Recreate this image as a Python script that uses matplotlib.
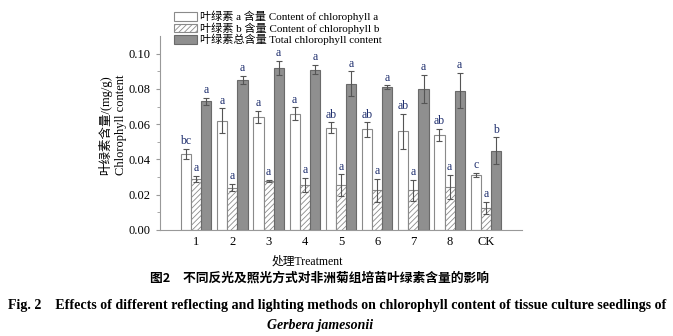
import numpy as np
import matplotlib
matplotlib.use("Agg")
import matplotlib.pyplot as plt
from matplotlib.patches import Patch

plt.rcParams['font.family'] = ['Liberation Serif', 'Noto Sans CJK SC']
plt.rcParams['hatch.linewidth'] = 0.6

# treatments and measured contents (mg/g)
treatments = ["1", "2", "3", "4", "5", "6", "7", "8", "CK"]
chl_a = [0.043, 0.062, 0.064, 0.066, 0.058, 0.057, 0.056, 0.054, 0.031]
chl_a_err = [0.003, 0.007, 0.0035, 0.0035, 0.003, 0.004, 0.010, 0.0035, 0.0012]
chl_b = [0.029, 0.024, 0.028, 0.0255, 0.0255, 0.0225, 0.0225, 0.0245, 0.0125]
chl_b_err = [0.0015, 0.002, 0.0005, 0.004, 0.006, 0.0065, 0.006, 0.0068, 0.0035]
chl_total = [0.073, 0.085, 0.092, 0.091, 0.083, 0.081, 0.080, 0.079, 0.045]
chl_total_err = [0.002, 0.0025, 0.004, 0.0025, 0.007, 0.001, 0.008, 0.010, 0.0075]
sig_a = ["bc", "a", "a", "a", "ab", "ab", "ab", "ab", "c"]
sig_b = ["a"] * 9
sig_total = ["a"] * 8 + ["b"]

fig = plt.figure(figsize=(6.73, 3.36), dpi=100)
ax = fig.add_axes([160 / 673, 1 - 230 / 336, 362 / 673, 194 / 336])

x = np.arange(1, len(treatments) + 1)
w = 0.28
err_kw = dict(ecolor='#555555', elinewidth=0.8, capsize=2.2, capthick=0.8)
letter_color = '#1f2f6e'

ax.bar(x - w, chl_a, w, yerr=chl_a_err, color='white', edgecolor='#8a8a8a',
       linewidth=0.8, error_kw=err_kw)
ax.bar(x, chl_b, w, yerr=chl_b_err, color='white', edgecolor='#8a8a8a',
       hatch='//////', linewidth=0.8, error_kw=err_kw)
ax.bar(x + w, chl_total, w, yerr=chl_total_err, color='#8f8f8f',
       edgecolor='#6a6a6a', linewidth=0.8, error_kw=err_kw)

for off, vals, errs, sig in [(-w, chl_a, chl_a_err, sig_a),
                             (0, chl_b, chl_b_err, sig_b),
                             (w, chl_total, chl_total_err, sig_total)]:
    for xi, v, e, s in zip(x, vals, errs, sig):
        ax.text(xi + off, v + e + 0.0010, s, ha='center', va='bottom',
                fontsize=8.5, color=letter_color)

ax.set_xlim(0, 10)
ax.set_ylim(0, 0.11)
ax.set_xticks(x)
ax.set_xticklabels(treatments, fontsize=9)
ax.set_yticks(np.arange(0, 0.101, 0.02))
ax.set_yticklabels([f"{v:.2f}" for v in np.arange(0, 0.101, 0.02)], fontsize=9)
ax.set_yticks(np.arange(0.01, 0.11, 0.02), minor=True)
ax.tick_params(axis='x', length=0, pad=4)
ax.tick_params(axis='y', which='major', length=3, color='#999999', direction='out')
ax.tick_params(axis='y', which='minor', length=2, color='#999999', direction='out')
for side in ['top', 'right']:
    ax.spines[side].set_visible(False)
for side in ['left', 'bottom']:
    ax.spines[side].set_color('#999999')
    ax.spines[side].set_linewidth(0.8)

handles = [Patch(facecolor='white', edgecolor='#8a8a8a', linewidth=0.8),
           Patch(facecolor='white', edgecolor='#8a8a8a', hatch='//////', linewidth=0.8),
           Patch(facecolor='#8f8f8f', edgecolor='#6a6a6a', linewidth=0.8)]
labels = ["叶绿素 a 含量 Content of chlorophyll a",
          "叶绿素 b 含量 Content of chlorophyll b",
          "叶绿素总含量 Total chlorophyll content"]
fig.legend(handles, labels, loc='upper left', bbox_to_anchor=(174 / 673, 1 - 11 / 336),
           frameon=False, fontsize=8, handlelength=2.1, handleheight=0.75,
           labelspacing=0.0, handletextpad=0.2, borderpad=0, borderaxespad=0)

fig.text(105 / 673, 1 - 125 / 336, "叶绿素含量/(mg/g)", rotation=90,
         ha='center', va='center', fontsize=9)
fig.text(121 / 673, 1 - 125 / 336, "Chlorophyll content", rotation=90,
         ha='center', va='center', fontsize=9)
fig.text(307 / 673, 1 - 262 / 336, "处理Treatment", ha='center', va='center', fontsize=8.5)

fig.text(319 / 673, 1 - 278 / 336, "图2　不同反光及照光方式对非洲菊组培苗叶绿素含量的影响",
         ha='center', va='center', fontsize=9.2, fontweight='bold',
         family=['Noto Sans CJK SC'])
fig.text(337 / 673, 1 - 306 / 336,
         "Fig. 2　Effects of different reflecting and lighting methods on chlorophyll content of tissue culture seedlings of",
         ha='center', va='center', fontsize=10.1, fontweight='bold',
         family=['Liberation Serif', 'Noto Sans CJK SC'])
fig.text(320 / 673, 1 - 326 / 336, "Gerbera jamesonii", ha='center', va='center',
         fontsize=10, fontweight='bold', style='italic')

fig.savefig("out.png", dpi=100, facecolor='white')
